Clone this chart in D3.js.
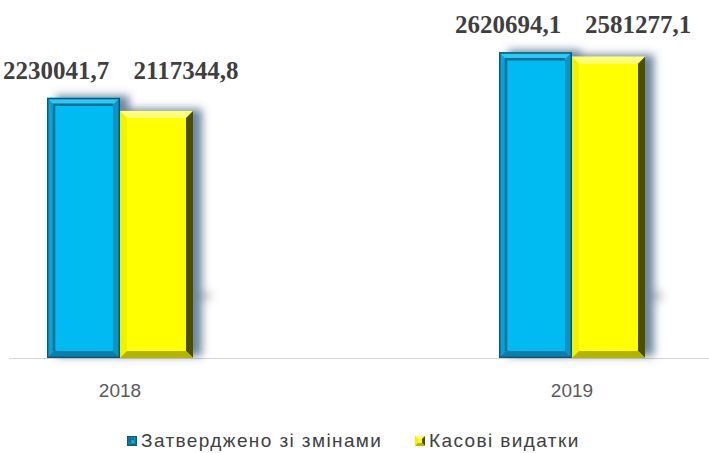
<!DOCTYPE html>
<html>
<head>
<meta charset="utf-8">
<script src="https://cdn.jsdelivr.net/npm/d3@7"></script>
<style>
  body { margin: 0; background: #fff; }
</style>
</head>
<body>
<script>
// data
var years = ["2018", "2019"];
var seriesNames = ["Затверджено зі змінами", "Касові видатки"];
var approved = [2230041.7, 2620694.1];
var spent = [2117344.8, 2581277.1];

var screen = {width: 709, height: 453};
var base = 358;

var svg = d3.select("body").append("svg")
    .attr("width", screen.width)
    .attr("height", screen.height);

// shadow filter
var defs = svg.append("defs");
var f = defs.append("filter").attr("id", "shadow")
    .attr("x", "-20%").attr("y", "-20%").attr("width", "160%").attr("height", "140%");
f.append("feGaussianBlur").attr("in", "SourceAlpha").attr("stdDeviation", 4).attr("result", "b");
f.append("feOffset").attr("in", "b").attr("dx", 9).attr("dy", -2).attr("result", "o");
f.append("feFlood").attr("flood-color", "#3e5e7e").attr("flood-opacity", 0.75).attr("result", "c");
f.append("feComposite").attr("in", "c").attr("in2", "o").attr("operator", "in").attr("result", "s");
var fm = f.append("feMerge");
fm.append("feMergeNode").attr("in", "s");
fm.append("feMergeNode").attr("in", "SourceGraphic");

var blur = defs.append("filter").attr("id", "smudge")
    .attr("x", "-200%").attr("y", "-200%").attr("width", "500%").attr("height", "500%");
blur.append("feGaussianBlur").attr("stdDeviation", 4);

// scales
var xScale = d3.scalePoint()
    .domain(years)
    .range([120, 572]);

var inner = d3.scaleBand()
    .domain([0, 1])
    .range([-73, 73]);

var yScale = d3.scaleLinear()
    .domain([0, 3000000])
    .range([base, 8]);

var styles = [
  {fill: "#00bbf1", top: "#2cc9f6", left: "#06a6da", right: "#0a93c4", bottom: "#0a7daa", edge: "#0b5878", innerEdge: "#0b6d94"},
  {fill: "#ffff00", top: "#ffff7a", left: "#f2f200", right: "#4d4d00", bottom: "#b3b300", edge: "#7a7a00", innerEdge: null}
];

var rows = years.map(function(y, i) {
  return {year: y, values: [approved[i], spent[i]]};
});

// axis line
svg.append("line")
    .attr("x1", 9).attr("x2", 709)
    .attr("y1", base + 0.5).attr("y2", base + 0.5)
    .attr("stroke", "#d4d4d4").attr("stroke-width", 1.2);

// reflections beside the shadow
svg.selectAll(".smudge")
    .data(rows)
    .enter()
    .append("ellipse")
    .attr("class", "smudge")
    .attr("cx", function(d) { return xScale(d.year) + inner(1) + inner.bandwidth() + 12; })
    .attr("cy", base - 62)
    .attr("rx", 7).attr("ry", 5)
    .attr("fill", "#8a8a8a")
    .attr("opacity", 0.4)
    .attr("filter", "url(#smudge)");

function bevel(g, x, y, w, h, b, s) {
  g.append("rect").attr("x", x).attr("y", y).attr("width", w).attr("height", h).attr("fill", s.fill);
  var p = [
    [[x, y], [x + w, y], [x + w - b, y + b], [x + b, y + b], s.top],
    [[x, y], [x + b, y + b], [x + b, y + h - b], [x, y + h], s.left],
    [[x + w, y], [x + w, y + h], [x + w - b, y + h - b], [x + w - b, y + b], s.right],
    [[x, y + h], [x + b, y + h - b], [x + w - b, y + h - b], [x + w, y + h], s.bottom]
  ];
  p.forEach(function(q) {
    g.append("polygon")
      .attr("points", q.slice(0, 4).map(function(pt) { return pt.join(","); }).join(" "))
      .attr("fill", q[4]);
  });
  if (s.innerEdge) {
    g.append("path")
      .attr("d", "M" + (x + b) + "," + (y + h - b) + "V" + (y + b) + "H" + (x + w - b))
      .attr("fill", "none").attr("stroke", s.innerEdge).attr("stroke-width", 2.5);
    g.append("rect").attr("x", x + 0.75).attr("y", y + 0.75).attr("width", w - 1.5).attr("height", h - 1.5)
      .attr("fill", "none").attr("stroke", s.edge).attr("stroke-width", 1.5);
  }
}

// bars
var groups = svg.selectAll(".grp")
    .data(rows)
    .enter()
    .append("g")
    .attr("class", "grp")
    .attr("filter", "url(#shadow)");

groups.each(function(d) {
  var g = d3.select(this);
  d.values.forEach(function(v, i) {
    var x = xScale(d.year) + inner(i);
    var y = yScale(v);
    bevel(g, x, y, inner.bandwidth(), base - y, 7, styles[i]);
  });
});

// value labels
var fmt = function(v) { return d3.format(".1f")(v).replace(".", ","); };
var labelDx = [-64, 66];

rows.forEach(function(d) {
  var top = yScale(d3.max(d.values));
  svg.selectAll(null)
    .data(d.values)
    .enter()
    .append("text")
    .attr("x", function(v, i) { return xScale(d.year) + labelDx[i]; })
    .attr("y", top - 19)
    .attr("text-anchor", "middle")
    .attr("font-family", "'Liberation Serif', 'Times New Roman', serif")
    .attr("font-weight", "bold")
    .attr("font-size", 25)
    .attr("fill", "#3f3f3f")
    .text(fmt);
});

// year labels
svg.selectAll(".year")
    .data(years)
    .enter()
    .append("text")
    .attr("class", "year")
    .attr("x", function(d) { return xScale(d); })
    .attr("y", base + 39)
    .attr("text-anchor", "middle")
    .attr("font-family", "'Liberation Sans', Arial, sans-serif")
    .attr("font-size", 19)
    .attr("fill", "#595959")
    .text(function(d) { return d; });

// legend
var legendX = [127, 415];
var legend = svg.selectAll(".legend")
    .data(seriesNames)
    .enter()
    .append("g")
    .attr("class", "legend")
    .attr("transform", function(d, i) { return "translate(" + legendX[i] + ",436)"; });

legend.each(function(d, i) {
  var g = d3.select(this);
  bevel(g, 0, 0, 10, 10, 3, styles[i]);
});

legend.append("text")
    .attr("x", 14)
    .attr("y", 11)
    .attr("font-family", "'Liberation Sans', Arial, sans-serif")
    .attr("font-size", 19)
    .attr("letter-spacing", 1.4)
    .attr("fill", "#404040")
    .text(function(d) { return d; });
</script>
</body>
</html>
